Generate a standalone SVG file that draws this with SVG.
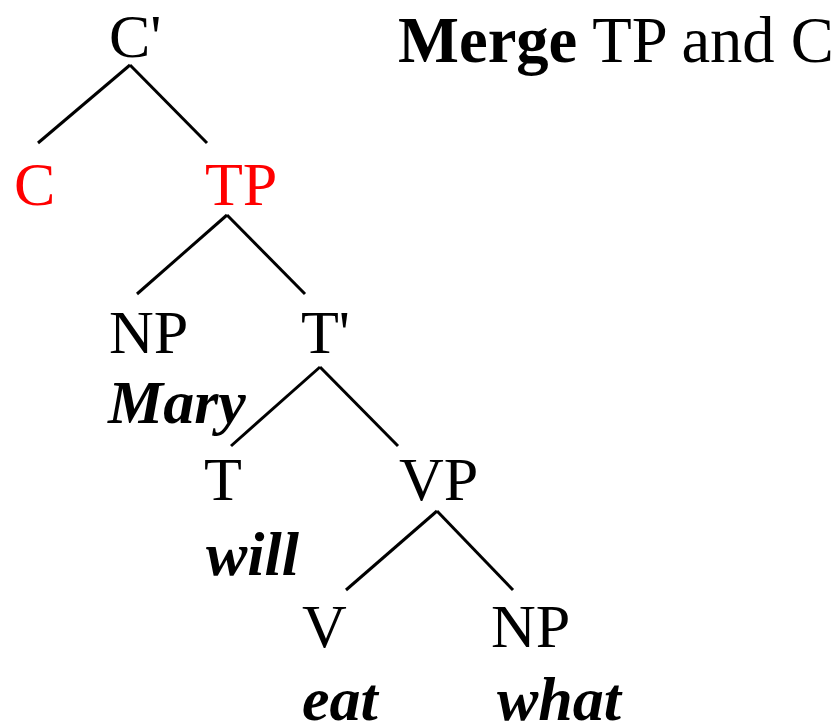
<svg xmlns="http://www.w3.org/2000/svg" width="838" height="725" viewBox="0 0 838 725">
<style>
text{font-family:"Liberation Serif","Times New Roman",serif;font-size:62px;fill:#000}
.red{fill:#ff0000}
.w{font-weight:bold;font-style:italic}
.h{font-size:64.6px}
#edges line{stroke:#000;stroke-width:3;stroke-linecap:butt}
</style>
<rect width="838" height="725" fill="#fff"/>
<g id="edges">
<line x1="130" y1="65" x2="38" y2="143"/>
<line x1="130" y1="65" x2="207" y2="143"/>
<line x1="227" y1="215" x2="137" y2="294"/>
<line x1="227" y1="215" x2="305" y2="294"/>
<line x1="320" y1="367" x2="231" y2="446"/>
<line x1="320" y1="367" x2="398" y2="446"/>
<line x1="437" y1="511" x2="346" y2="590"/>
<line x1="437" y1="511" x2="513" y2="590"/>
</g>
<g id="title"><text class="h" x="398" y="62"><tspan font-weight="bold">Merge</tspan> TP and C</text></g>
<g id="Cbar"><text x="109" y="57">C'</text></g>
<g id="C"><text class="red" x="14" y="205">C</text></g>
<g id="TP"><text class="red" x="205" y="205">TP</text></g>
<g id="NP1"><text x="109" y="353">NP</text><text class="w" x="108" y="423">Mary</text></g>
<g id="Tbar"><text x="301" y="353">T'</text></g>
<g id="T"><text x="204" y="500">T</text><text class="w" x="206" y="575">will</text></g>
<g id="VP"><text x="399" y="500">VP</text></g>
<g id="V"><text x="302" y="647">V</text><text class="w" x="302" y="720">eat</text></g>
<g id="NP2"><text x="491" y="647">NP</text><text class="w" x="497" y="720">what</text></g>
</svg>
